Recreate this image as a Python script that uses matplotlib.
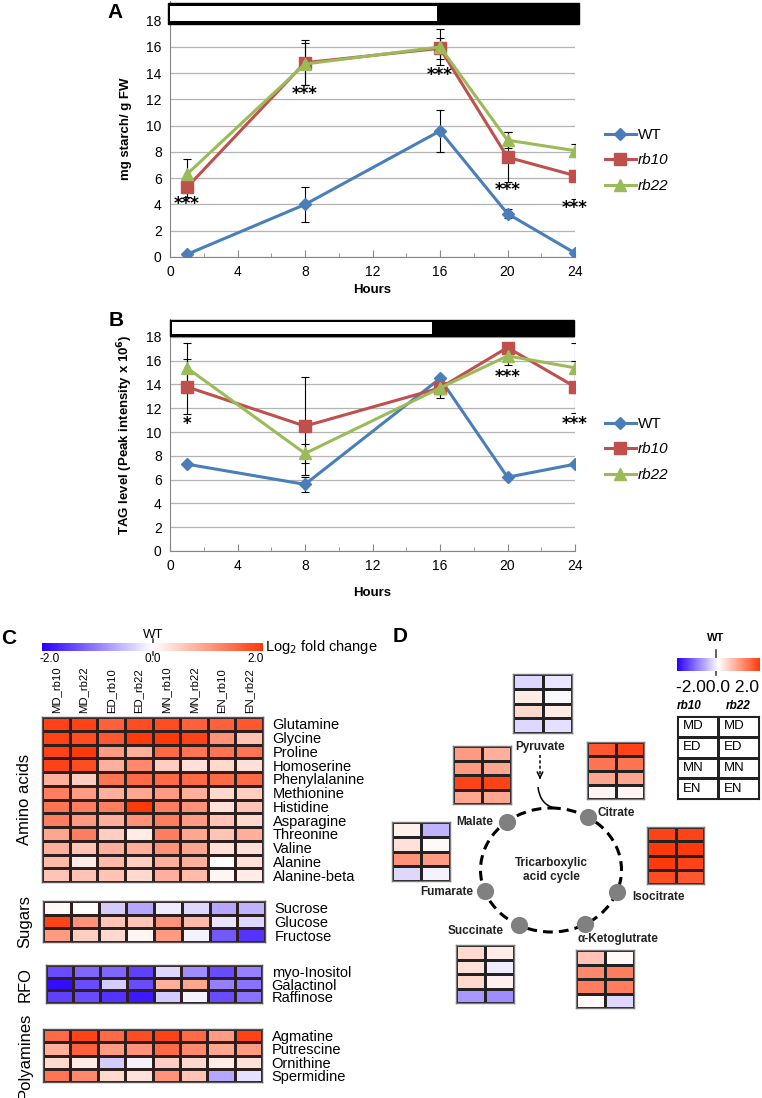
import numpy as np
import matplotlib
matplotlib.use('Agg')
import matplotlib.pyplot as plt
from matplotlib.colors import LinearSegmentedColormap, Normalize, ListedColormap
from matplotlib.patches import Rectangle, Ellipse, PathPatch
from matplotlib.path import Path
from matplotlib.cm import ScalarMappable

plt.rcParams['font.family'] = ['Liberation Sans', 'DejaVu Sans']

W, H = 762, 1098

# ---------------- data: panels A and B ----------------
hours = [1, 8, 16, 20, 24]
genotypes = ['WT', 'rb10', 'rb22']

starch_wt = [0.2, 4.0, 9.6, 3.3, 0.3]
starch_wt_err = [0.0, 1.35, 1.6, 0.35, 0.0]
starch_rb10 = [5.3, 14.8, 15.9, 7.6, 6.2]
starch_rb10_err = [0.7, 1.7, 0.8, 1.9, 1.8]
starch_rb22 = [6.3, 14.7, 16.0, 8.9, 8.1]
starch_rb22_err = [1.2, 1.6, 1.4, 0.6, 0.5]
starch_star_x = [1, 8, 16, 20, 24]
starch_star_y = [4.0, 12.4, 13.9, 5.1, 3.7]
starch_star_txt = ['***', '***', '***', '***', '***']

tag_wt = [7.3, 5.6, 14.5, 6.2, 7.3]
tag_wt_err = [0.0, 0.6, 0.2, 0.0, 0.0]
tag_rb10 = [13.8, 10.5, 13.7, 17.1, 13.8]
tag_rb10_err = [2.3, 4.1, 0.8, 0.4, 2.2]
tag_rb22 = [15.4, 8.2, 13.7, 16.4, 15.4]
tag_rb22_err = [2.1, 0.8, 0.5, 0.8, 2.1]
tag_star_x = [1, 20, 24]
tag_star_y = [10.7, 14.6, 10.7]
tag_star_txt = ['*', '***', '***']

# ---------------- data: panel C ----------------
conditions = ['MD_rb10', 'MD_rb22', 'ED_rb10', 'ED_rb22',
              'MN_rb10', 'MN_rb22', 'EN_rb10', 'EN_rb22']
amino_names = ['Glutamine', 'Glycine', 'Proline', 'Homoserine', 'Phenylalanine',
               'Methionine', 'Histidine', 'Asparagine', 'Threonine', 'Valine',
               'Alanine', 'Alanine-beta']
amino_vals = np.array([
    [1.9, 1.9, 1.6, 1.8, 1.8, 1.6, 1.6, 1.7],
    [1.9, 1.8, 1.7, 2.0, 2.0, 1.9, 1.1, 0.6],
    [1.9, 2.0, 1.0, 0.8, 1.5, 1.4, 1.4, 1.4],
    [1.9, 1.8, 0.8, 1.2, 0.5, 0.3, 0.4, 0.3],
    [0.8, 0.5, 1.4, 1.5, 1.5, 1.5, 1.5, 1.5],
    [1.3, 1.0, 0.8, 0.9, 1.0, 0.8, 0.4, 0.5],
    [1.4, 1.3, 1.3, 2.0, 1.3, 1.1, 0.3, 0.6],
    [1.3, 1.0, 0.8, 1.1, 1.3, 1.0, 0.6, 0.4],
    [0.9, 1.3, 0.5, 0.2, 1.3, 0.9, 0.6, 0.8],
    [0.8, 0.6, 0.8, 0.8, 1.1, 0.9, 0.3, 0.3],
    [0.7, 0.2, 0.7, 0.5, 0.8, 0.8, 0.0, 0.3],
    [0.6, 0.6, 0.6, 0.4, 0.8, 0.7, 0.1, 0.2],
])
sugar_names = ['Sucrose', 'Glucose', 'Fructose']
sugar_vals = np.array([
    [0.05, 0.0, -0.4, -0.7, -0.15, -0.3, -0.7, -0.6],
    [1.9, 1.1, 0.6, 0.6, 1.1, 0.7, -0.2, -0.3],
    [1.0, 0.5, 0.4, 0.1, 1.0, -0.1, -1.3, -1.6],
])
rfo_names = ['myo-Inositol', 'Galactinol', 'Raffinose']
rfo_vals = np.array([
    [-1.4, -1.2, -1.2, -1.5, -0.3, -0.9, -1.4, -1.0],
    [-1.9, -1.4, -0.4, -1.4, 0.8, 0.9, -1.0, -1.1],
    [-1.5, -1.4, -1.6, -1.8, -0.4, -0.1, -1.4, -1.1],
])
poly_names = ['Agmatine', 'Putrescine', 'Ornithine', 'Spermidine']
poly_vals = np.array([
    [1.5, 1.9, 1.5, 1.8, 1.9, 1.5, 1.0, 1.9],
    [0.8, 1.6, 1.0, 1.1, 1.5, 1.2, 0.9, 1.0],
    [0.4, 0.2, -0.4, -0.1, 0.5, 0.4, 0.2, 0.3],
    [1.4, 1.2, 0.4, 0.3, 1.1, 0.6, -0.7, -0.25],
])

# ---------------- data: panel D (rows MD, ED, MN, EN; cols rb10, rb22) ----------------
pyruvate_vals = np.array([[-0.3, -0.2], [0.2, -0.05], [0.4, 0.2], [-0.3, -0.25]])
malate_vals = np.array([[1.0, 0.8], [1.0, 0.9], [1.9, 1.9], [0.9, 0.9]])
citrate_vals = np.array([[1.7, 1.9], [1.4, 1.4], [0.9, 0.9], [0.1, 0.1]])
fumarate_vals = np.array([[0.15, -0.6], [0.3, 0.05], [1.1, 1.0], [-0.3, -0.1]])
isocitrate_vals = np.array([[1.9, 1.9], [2.0, 2.0], [2.0, 1.9], [1.8, 1.7]])
succinate_vals = np.array([[0.4, 0.2], [0.3, -0.15], [0.4, 0.15], [-0.8, -0.9]])
akg_vals = np.array([[0.6, 0.05], [1.2, 1.3], [1.3, 1.3], [0.05, -0.3]])
phase_labels = ['MD', 'ED', 'MN', 'EN']

cmap = LinearSegmentedColormap.from_list('wtfc', ['#2a00ff', '#ffffff', '#ff3a0a'])
norm = Normalize(-2, 2)
colors = ['#4a7ebb', '#c0504d', '#9bbb59']
markers = ['D', 's', '^']
msizes = [6.5, 8.5, 9]

fig = plt.figure(figsize=(W / 100, H / 100), dpi=100)

# overlay in pixel coordinates
ov = fig.add_axes([0, 0, 1, 1])
ov.set_xlim(0, W)
ov.set_ylim(H, 0)
ov.set_facecolor('none')
ov.axis('off')


def px_axes(x0, y0, x1, y1):
    return fig.add_axes([x0 / W, 1 - y1 / H, (x1 - x0) / W, (y1 - y0) / H])


def line_panel(rect, series, errs, star_x, star_y, star_txt, ylabel,
               bar, light_end, ylab_x, xlab_y, leg_top):
    ax = px_axes(*rect)
    for y, e, c, m, ms, g in zip(series, errs, colors, markers, msizes, genotypes):
        ax.errorbar(hours, y, yerr=e, fmt='none', ecolor='black',
                    elinewidth=0.8, capsize=3, capthick=0.8, zorder=3)
        ax.plot(hours, y, color=c, lw=2.2, marker=m, ms=ms, zorder=4, label=g)
    for sx, sy, st in zip(star_x, star_y, star_txt):
        ax.text(sx, sy, st, ha='center', va='center', fontsize=12,
                family='DejaVu Sans', fontweight='bold', zorder=5)
    ax.set_xlim(0, 24)
    ax.set_ylim(0, 19.5)
    ax.set_yticks(np.arange(0, 19, 2))
    ax.set_xticks(np.arange(0, 25, 4))
    ax.set_xticks(np.arange(2, 24, 4), minor=True)
    ax.yaxis.grid(True, color='#b3b3b3', lw=0.9, zorder=0)
    ax.set_axisbelow(True)
    ax.tick_params(axis='y', length=0, labelsize=10, pad=6)
    ax.tick_params(axis='x', which='major', direction='in', length=5,
                   color='#868686', labelsize=10, pad=6)
    ax.tick_params(axis='x', which='minor', direction='in', length=3, color='#868686')
    for s in ['top', 'right']:
        ax.spines[s].set_visible(False)
    for s in ['left', 'bottom']:
        ax.spines[s].set_color('#868686')
    ax.set_ylabel(ylabel, fontsize=9.5, fontweight='bold')
    ax.yaxis.set_label_coords(ylab_x, 0.5)
    ax.set_xlabel('Hours', fontsize=9.5, fontweight='bold')
    ax.xaxis.set_label_coords(0.5, xlab_y)
    bx0, bx1, by0, by1 = bar
    ax.add_patch(Rectangle((bx0, by0), bx1 - bx0, by1 - by0, facecolor='black',
                           edgecolor='black', clip_on=False, zorder=6))
    ax.add_patch(Rectangle((bx0 + 0.12, by0 + 0.2), light_end - bx0 - 0.12,
                           by1 - by0 - 0.4, facecolor='white', edgecolor='none',
                           clip_on=False, zorder=7))
    leg = ax.legend(loc='upper left', bbox_to_anchor=(605 / W, 1 - leg_top / H),
                    bbox_transform=fig.transFigure, frameon=False, fontsize=11,
                    borderaxespad=0, borderpad=0, handlelength=2.0,
                    handletextpad=0.15, labelspacing=0.75, numpoints=1)
    for txt in leg.get_texts()[1:]:
        txt.set_fontstyle('italic')
    return ax


line_panel((170, 1, 575, 257), [starch_wt, starch_rb10, starch_rb22],
           [starch_wt_err, starch_rb10_err, starch_rb22_err],
           starch_star_x, starch_star_y, starch_star_txt, 'mg starch/ g FW',
           (-0.12, 24.24, 17.75, 19.35), 15.8, -0.094, -0.105, 128)
line_panel((170, 319, 575, 551), [tag_wt, tag_rb10, tag_rb22],
           [tag_wt_err, tag_rb10_err, tag_rb22_err],
           tag_star_x, tag_star_y, tag_star_txt,
           'TAG level (Peak intensity x 10$^\\mathbf{6}$)',
           (0.0, 23.95, 18.05, 19.45), 15.5, -0.086, -0.155, 417)

for t, x, y in [('A', 115, 12), ('B', 116, 320), ('C', 9, 638), ('D', 400, 637)]:
    ov.text(x, y, t, fontsize=15, fontweight='bold', ha='center', va='center')


# ---------------- panel C ----------------
def heat(x0, y0, x1, y1, vals, edge='#2e1f1f', outer='#2e1f1f', lw=1.0):
    ax = px_axes(x0, y0, x1, y1)
    nr, nc = vals.shape
    ax.pcolormesh(vals, cmap=cmap, norm=norm, edgecolors=edge, linewidth=lw)
    ax.set_xlim(0, nc)
    ax.set_ylim(nr, 0)
    ax.set_xticks([])
    ax.set_yticks([])
    for s in ax.spines.values():
        s.set_color(outer)
        s.set_linewidth(lw)
    return ax


cgroups = [
    (amino_vals, amino_names, (42, 717, 263, 882), 'Amino acids'),
    (sugar_vals, sugar_names, (43, 901, 265, 942), 'Sugars'),
    (rfo_vals, rfo_names, (46, 965, 262, 1003), 'RFO'),
    (poly_vals, poly_names, (43, 1029, 262, 1082), 'Polyamines'),
]
for i, (vals, names, box, gname) in enumerate(cgroups):
    ax = heat(*box, vals, edge='#2e1f1f', outer='#555555')
    ax.yaxis.tick_right()
    ax.set_yticks(np.arange(len(names)) + 0.5, names, fontsize=10.5)
    ax.tick_params(axis='y', length=0, pad=7)
    if i == 0:
        ax.xaxis.tick_top()
        ax.set_xticks(np.arange(len(conditions)) + 0.5, conditions,
                      rotation=90, fontsize=8.2)
        ax.tick_params(axis='x', length=0, pad=3)
    ov.text(25, (box[1] + box[3]) / 2, gname, rotation=90, fontsize=12,
            ha='center', va='center')

cax = px_axes(42, 643, 263, 651)
cb = fig.colorbar(ScalarMappable(norm=norm, cmap=cmap), cax=cax, orientation='horizontal')
cb.outline.set_visible(False)
cb.set_ticks([])
ov.plot([153, 153], [639, 655], color='#444444', lw=1.2)
ov.text(153, 635, 'WT', fontsize=9.5, ha='center', va='center')
for lbl, x in [('-2.0', 50), ('0.0', 153), ('2.0', 256)]:
    ov.text(x, 659, lbl, fontsize=8.5, ha='center', va='center')
ov.text(265, 647, 'Log$_2$ fold change', fontsize=10.5, ha='left', va='center')

# ---------------- panel D ----------------
dboxes = [
    (pyruvate_vals, (513, 674, 572, 733)),
    (malate_vals, (453, 746, 511, 804)),
    (citrate_vals, (587, 742, 644, 799)),
    (fumarate_vals, (392, 822, 450, 881)),
    (isocitrate_vals, (647, 827, 704, 884)),
    (succinate_vals, (456, 945, 514, 1003)),
    (akg_vals, (576, 950, 634, 1008)),
]
for vals, box in dboxes:
    heat(*box, vals, edge='#222222', outer='#7a7a7a', lw=1.0)

cx, cy, rx, ry = 551, 870, 70.5, 62
ov.add_patch(Ellipse((cx, cy), 2 * rx, 2 * ry, fill=False, lw=2.2,
                     ls=(0, (3.2, 2.0)), color='black'))
node_names = ['Malate', 'Citrate', 'Fumarate', 'Isocitrate', 'Succinate', '\u03b1-Ketoglutrate']
node_angles = [231, 302, 160, 21, 117, 61]
node_lbl = [(493, 822, 'right'), (598, 813, 'left'), (473, 892, 'right'),
            (632, 897, 'left'), (504, 931, 'right'), (577, 939, 'left')]
for name, ang, (lx, ly, ha) in zip(node_names, node_angles, node_lbl):
    t = np.deg2rad(ang)
    ov.scatter(cx + rx * np.cos(t), cy + ry * np.sin(t), s=130, color='#808080', zorder=5)
    ov.text(lx, ly, name, fontsize=8.5, fontweight='bold', ha=ha, va='center', color='#222222')
ov.text(cx, cy, 'Tricarboxylic\nacid cycle', fontsize=8.5, fontweight='bold',
        ha='center', va='center', linespacing=1.3, color='#222222')
ov.text(540, 747, 'Pyruvate', fontsize=8.5, fontweight='bold', ha='center',
        va='center', color='#222222')
ov.plot([540, 540], [755, 778], color='black', lw=1.1, ls=(0, (2, 1.5)))
ov.annotate('', xy=(540, 782), xytext=(540, 774),
            arrowprops=dict(arrowstyle='->', lw=1.1, color='black', mutation_scale=10))
ov.add_patch(PathPatch(Path([(538, 787), (540, 805), (555, 808)],
                            [Path.MOVETO, Path.CURVE3, Path.CURVE3]),
                       fill=False, lw=1.1, color='black'))

# legend of panel D
dcax = px_axes(677, 658, 760, 671)
dcb = fig.colorbar(ScalarMappable(norm=norm, cmap=cmap), cax=dcax, orientation='horizontal')
dcb.outline.set_visible(False)
dcb.set_ticks([])
ov.plot([716, 716], [650, 675], color='#444444', lw=1.2)
ov.text(716, 638, 'WT', fontsize=8, fontweight='bold', ha='center', va='center')
ov.text(718, 688, '-2.00.0 2.0', fontsize=12.5, ha='center', va='center')
ov.text(689, 706, 'rb10', fontsize=8.5, fontweight='bold', style='italic', ha='center', va='center')
ov.text(738, 706, 'rb22', fontsize=8.5, fontweight='bold', style='italic', ha='center', va='center')
tax = px_axes(677, 716, 759, 799)
tax.pcolormesh(np.zeros((4, 2)), cmap=ListedColormap(['white']), edgecolors='#222222', linewidth=1.0)
tax.set_xlim(0, 2)
tax.set_ylim(4, 0)
tax.set_xticks([])
tax.set_yticks([])
for s in tax.spines.values():
    s.set_color('#222222')
for r, p in enumerate(phase_labels):
    for c in range(2):
        tax.text(c + 0.15, r + 0.5, p, fontsize=9.5, ha='left', va='center')

fig.savefig('out.png', dpi=100)
